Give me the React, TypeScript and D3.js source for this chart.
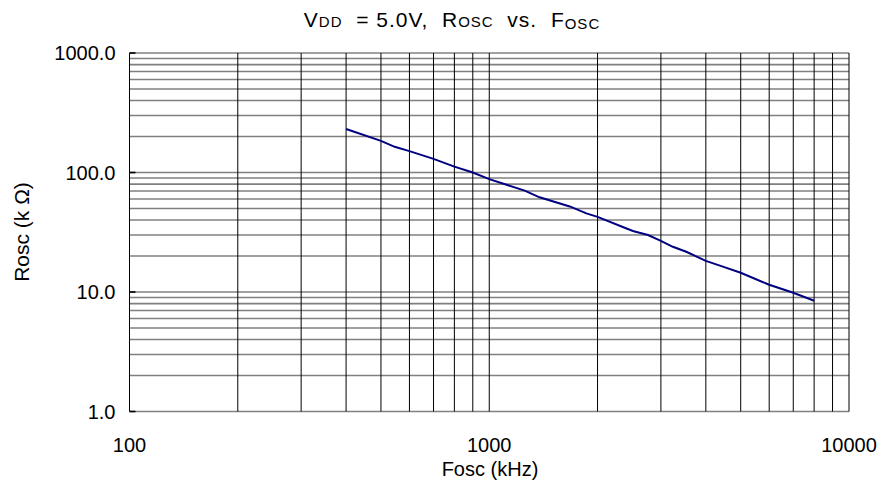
import * as d3 from 'd3';

// Rosc vs Fosc at VDD = 5.0V
const freqKHz = [400, 500, 546, 600, 700, 800, 900, 1000, 1255, 1380, 1674, 1862, 2000, 2379, 2508, 2762, 3000, 3238, 3530, 4000, 4460, 5000, 6000, 7000, 8000];
const roscK = [231, 184, 164, 151, 130, 112, 100, 88, 70.5, 62, 52, 45.5, 42.5, 34.5, 32.4, 30.0, 26.8, 23.9, 21.7, 18.2, 16.3, 14.5, 11.5, 9.86, 8.45];

const xTicks = [100, 1000, 10000];
const xTickLabels = ['100', '1000', '10000'];
const yTicks = [1, 10, 100, 1000];
const yTickLabels = ['1.0', '10.0', '100.0', '1000.0'];

const W = 885;
const H = 496;
const margin = { top: 53, right: 36, bottom: 84.5, left: 129.5 };
const font = 'Arial, "Liberation Sans", sans-serif';

export default function App() {
  const width = W - margin.left - margin.right;
  const height = H - margin.top - margin.bottom;

  const x = d3.scaleLog().domain([100, 10000]).range([0, width]);
  const y = d3.scaleLog().domain([1, 1000]).range([height, 0]);

  // minor + major gridlines, 1..9 per decade
  const xGrid: number[] = [];
  for (let p = 2; p < 4; p++) for (let m = 1; m < 10; m++) xGrid.push(m * 10 ** p);
  xGrid.push(10000);
  const yGrid: number[] = [];
  for (let p = 0; p < 3; p++) for (let m = 1; m < 10; m++) yGrid.push(m * 10 ** p);
  yGrid.push(1000);

  const line = d3
    .line<number>()
    .x((_, i) => x(freqKHz[i]))
    .y((d) => y(d));

  return (
    <svg
      width={W}
      height={H}
      style={{ position: 'absolute', left: 0, top: 0, background: '#fff' }}
      fontFamily={font}
    >
      <rect width={W} height={H} fill="#fff" />
      <text
        x={452}
        y={27}
        textAnchor="middle"
        fontSize={21}
        letterSpacing={1}
        fill="#000"
        style={{ whiteSpace: 'pre' }}
      >
        <tspan>V</tspan>
        <tspan fontSize={15}>DD</tspan>
        <tspan>{'  = 5.0V,  R'}</tspan>
        <tspan fontSize={15}>OSC</tspan>
        <tspan>{'  vs.  F'}</tspan>
        <tspan fontSize={15} dy={2}>OSC</tspan>
      </text>

      <g transform={`translate(${margin.left},${margin.top})`}>
        {yGrid.map((v) => (
          <line key={'h' + v} x1={0} x2={width} y1={y(v)} y2={y(v)} stroke="#808080" strokeWidth={1.6} />
        ))}
        {xGrid.map((v) => (
          <line key={'v' + v} x1={x(v)} x2={x(v)} y1={0} y2={height} stroke="#000" strokeWidth={1} />
        ))}
        {yTicks.map((v) => (
          <line key={'t' + v} x1={0} x2={6} y1={y(v)} y2={y(v)} stroke="#000" strokeWidth={1.6} />
        ))}

        <path d={line(roscK) ?? ''} fill="none" stroke="#000080" strokeWidth={2} />

        {yTicks.map((v, i) => (
          <text key={'yl' + v} x={-14} y={y(v)} dy="0.36em" textAnchor="end" fontSize={20} fill="#000">
            {yTickLabels[i]}
          </text>
        ))}
        {xTicks.map((v, i) => (
          <text key={'xl' + v} x={x(v)} y={height + 40} textAnchor="middle" fontSize={20} fill="#000">
            {xTickLabels[i]}
          </text>
        ))}
      </g>

      <text x={490} y={476} textAnchor="middle" fontSize={20} fill="#000">
        Fosc (kHz)
      </text>
      <text
        transform={`translate(${29},${232}) rotate(-90)`}
        textAnchor="middle"
        fontSize={21}
        fill="#000"
      >
        Rosc (k Ω)
      </text>
    </svg>
  );
}
